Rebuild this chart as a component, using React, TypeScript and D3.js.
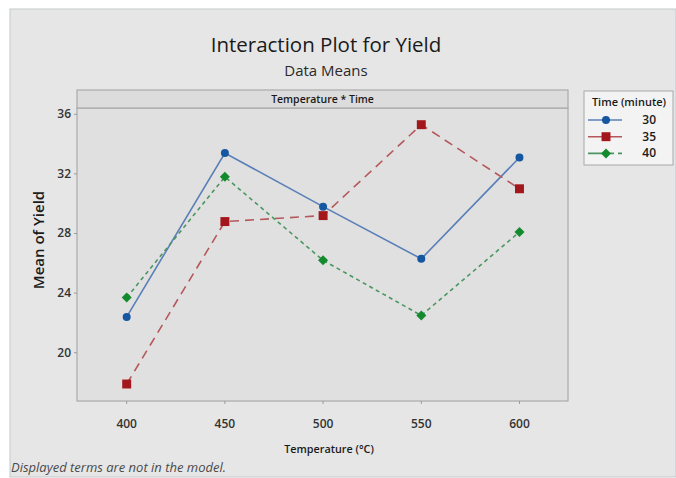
import React from "react";
import * as d3 from "d3";

const temperatures = [400, 450, 500, 550, 600];
const timeLevels = ["30", "35", "40"];
const yield30 = [22.4, 33.4, 29.8, 26.3, 33.1];
const yield35 = [17.9, 28.8, 29.2, 35.3, 31.0];
const yield40 = [23.7, 31.8, 26.2, 22.5, 28.1];
const yTicks = [20, 24, 28, 32, 36];

const W = 676;
const H = 478;
const panel = { x0: 77, x1: 568, top: 90, stripBottom: 108, bottom: 401 };

const seriesStyle = [
  { values: yield30, marker: d3.symbolCircle, size: 50, rot: 0, fill: "#1557a0", line: "#5a7fb8", dash: "none", width: 1.6 },
  { values: yield35, marker: d3.symbolSquare, size: 80, rot: 0, fill: "#a3161b", line: "#b5585c", dash: "9,6", width: 1.6 },
  { values: yield40, marker: d3.symbolSquare, size: 50, rot: 45, fill: "#138a2e", line: "#4a9660", dash: "4,3.5", width: 1.6 },
];

const FONT = "'Open Sans', 'Noto Sans', sans-serif";

export default function App() {
  const x = d3.scaleLinear().domain([374.7, 624.7]).range([panel.x0, panel.x1]);
  const y = d3.scaleLinear().domain([16.76, 36.42]).range([panel.bottom, panel.stripBottom]);
  const line = d3
    .line<number>()
    .x((_, i) => x(temperatures[i]))
    .y((d) => y(d));

  return (
    <svg
      width={W}
      height={H}
      style={{ position: "fixed", left: 0, top: 0, display: "block" }}
      fontFamily={FONT}
    >
      <rect x={0} y={0} width={W} height={H} fill="#ffffff" />
      <rect x={10} y={9} width={W - 10} height={H - 10} fill="#e6e6e6" stroke="#c4c9cc" strokeWidth={1} />

      <text x={326} y={52} textAnchor="middle" fontSize={20.5} fill="#1a1a1a">
        Interaction Plot for Yield
      </text>
      <text x={326} y={76} textAnchor="middle" fontSize={15} fill="#2a2a2a">
        Data Means
      </text>

      {/* panel */}
      <rect
        x={panel.x0}
        y={panel.stripBottom}
        width={panel.x1 - panel.x0}
        height={panel.bottom - panel.stripBottom}
        fill="#e0e0e0"
        stroke="#ababab"
        strokeWidth={1.2}
      />
      <rect
        x={panel.x0}
        y={panel.top}
        width={panel.x1 - panel.x0}
        height={panel.stripBottom - panel.top}
        fill="#dcdcdc"
        stroke="#ababab"
        strokeWidth={1.2}
      />
      <text
        x={(panel.x0 + panel.x1) / 2}
        y={103}
        textAnchor="middle"
        fontSize={10.5}
        fontWeight={600}
        fill="#1a1a1a"
      >
        Temperature * Time
      </text>

      {/* y axis */}
      {yTicks.map((t) => (
        <g key={t}>
          <line x1={panel.x0 - 3} x2={panel.x0} y1={y(t)} y2={y(t)} stroke="#9a9a9a" />
          <text x={panel.x0 - 6} y={y(t) + 4} textAnchor="end" fontSize={12} fontWeight={600} fill="#333">
            {t}
          </text>
        </g>
      ))}
      <text
        transform={`translate(44,240) rotate(-90)`}
        textAnchor="middle"
        fontSize={15}
        fontWeight={600}
        fill="#1a1a1a"
      >
        Mean of Yield
      </text>

      {/* x axis */}
      {temperatures.map((t) => (
        <g key={t}>
          <line x1={x(t)} x2={x(t)} y1={panel.bottom} y2={panel.bottom + 3} stroke="#9a9a9a" />
          <text x={x(t)} y={428} textAnchor="middle" fontSize={12} fontWeight={600} fill="#333">
            {t}
          </text>
        </g>
      ))}
      <text x={329} y={453} textAnchor="middle" fontSize={10.8} fontWeight={600} fill="#1a1a1a">
        Temperature (°C)
      </text>

      {/* series */}
      {seriesStyle.map((s, si) => (
        <g key={si}>
          <path
            d={line(s.values) || ""}
            fill="none"
            stroke={s.line}
            strokeWidth={s.width}
            strokeDasharray={s.dash}
          />
          {s.values.map((v, i) => (
            <path
              key={i}
              transform={`translate(${x(temperatures[i])},${y(v)}) rotate(${s.rot})`}
              d={d3.symbol().type(s.marker).size(s.size)() || ""}
              fill={s.fill}
            />
          ))}
        </g>
      ))}

      {/* legend */}
      <rect x={584} y={91} width={89} height={74} fill="#f3f3f3" stroke="#a8a8a8" strokeWidth={1} />
      <text x={629} y={106} textAnchor="middle" fontSize={11} fontWeight={600} fill="#1a1a1a">
        Time (minute)
      </text>
      {seriesStyle.map((s, i) => {
        const ly = 120 + i * 16.7;
        return (
          <g key={i}>
            <line x1={588} x2={622} y1={ly} y2={ly} stroke={s.line} strokeWidth={1.6} strokeDasharray={i === 2 ? "18,4,4,4" : "none"} />
            <path transform={`translate(606,${ly}) rotate(${s.rot})`} d={d3.symbol().type(s.marker).size(s.size)() || ""} fill={s.fill} />
            <text x={656} y={ly + 4} textAnchor="end" fontSize={12} fontWeight={600} fill="#1a1a1a">
              {timeLevels[i]}
            </text>
          </g>
        );
      })}

      <text x={11} y={472} fontSize={13} fontStyle="italic" fill="#4a4a4a">
        Displayed terms are not in the model.
      </text>
    </svg>
  );
}
